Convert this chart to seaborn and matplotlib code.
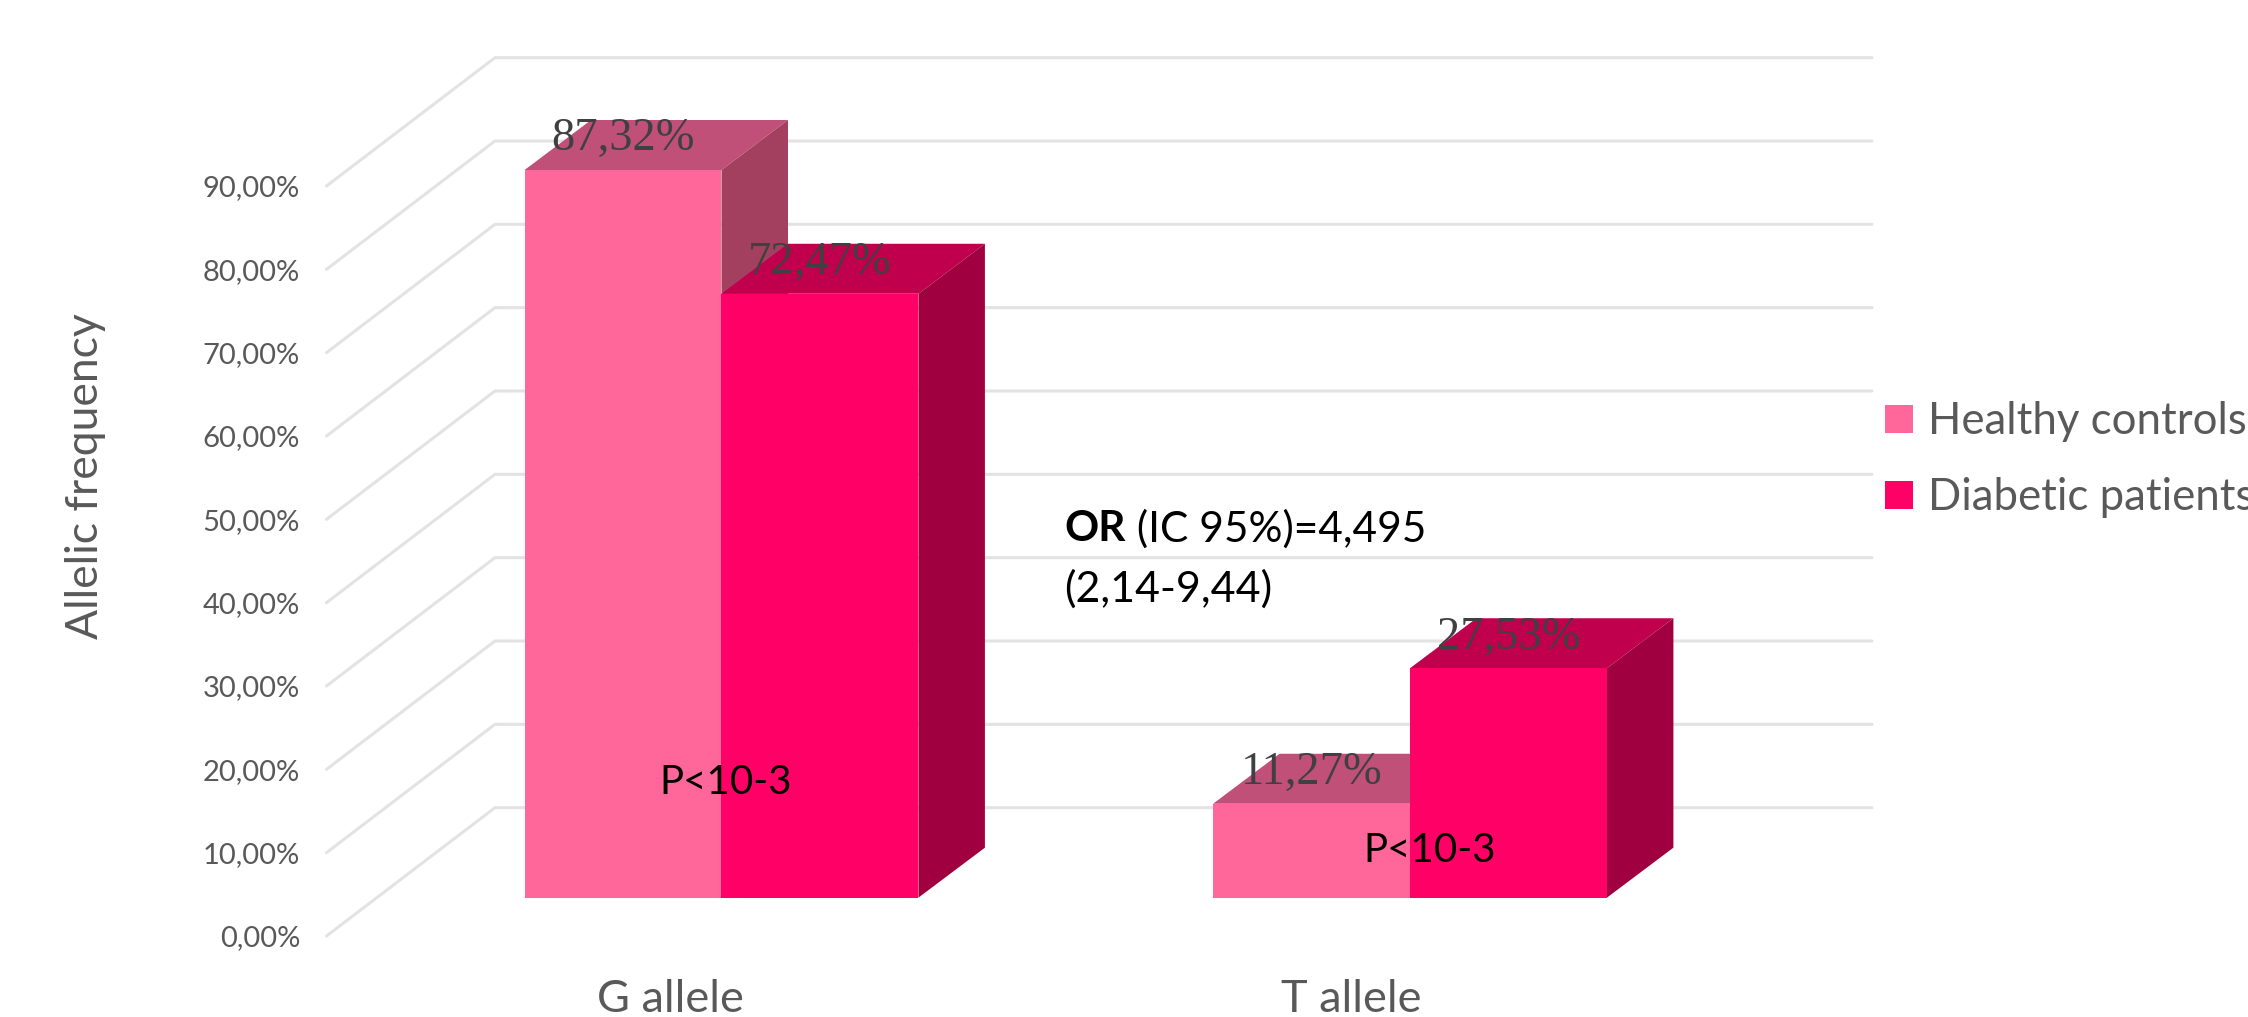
import matplotlib
matplotlib.use("Agg")
import matplotlib.pyplot as plt
import pandas as pd
import seaborn as sns
from matplotlib.patches import Polygon

# values
alleles = ["G allele", "T allele"]
groups = ["Healthy controls", "Diabetic patients"]
healthy = [87.32, 11.27]
diabetic = [72.47, 27.53]
y_ticks = [0, 10, 20, 30, 40, 50, 60, 70, 80, 90]
y_tick_labels = ["0,00%", "10,00%", "20,00%", "30,00%", "40,00%",
                 "50,00%", "60,00%", "70,00%", "80,00%", "90,00%"]

# colours: front, top, side
PINK = ("#FF6699", "#C05078", "#A3405F")
RED = ("#FF0066", "#C0004D", "#A0003F")
GRID = "#E3E3E3"
TEXT = "#595959"

# fake 3D: how far the back wall and the bars are pushed, in data units
WALL_DX, WALL_DY = 0.2447, 15.4
BAR_DX, BAR_DY = 0.0966, 6.0
BAR_FLOOR = 4.6
CAT_SHIFT = 0.0737
TICK_NUDGE = [0, -0.012]


def fig_xy(px, py):
    """Convert reference pixels to figure fractions."""
    return px / 2248, 1 - py / 1017


df = pd.DataFrame({
    "allele": alleles * 2,
    "group": [groups[0]] * 2 + [groups[1]] * 2,
    "value": healthy + diabetic,
})

sns.set_style("white")
plt.rcParams["font.family"] = ["Lato", "DejaVu Sans"]

fig = plt.figure(figsize=(22.48, 10.17), dpi=100)
ax = fig.add_axes([326.5 / 2248, 81 / 1017, 1377 / 2248, 750 / 1017])

sns.barplot(data=df, x="allele", y="value", hue="group", order=alleles,
            hue_order=groups, palette=[PINK[0], RED[0]], width=0.572, gap=0,
            saturation=1, linewidth=0, zorder=3, ax=ax)

left, right = -0.5 - CAT_SHIFT, 1.5 - CAT_SHIFT
ax.set_xlim(left, right)
ax.set_ylim(0, 90)

# floor and wall lines
for v in y_ticks:
    ax.plot([left, left + WALL_DX, right + WALL_DX],
            [v, v + WALL_DY, v + WALL_DY],
            color=GRID, lw=2.2, clip_on=False, zorder=1, solid_joinstyle="miter")

# lift bars off the front edge, add top and side of each, plus value label
for cont, shades, vals in zip(ax.containers, [PINK, RED], [healthy, diabetic]):
    for rect, v in zip(cont, vals):
        rect.set_y(BAR_FLOOR)
        rect.set_clip_on(False)
        x0 = rect.get_x()
        x1 = x0 + rect.get_width()
        y0 = rect.get_y()
        y1 = y0 + rect.get_height()
        top = [(x0, y1), (x1, y1), (x1 + BAR_DX, y1 + BAR_DY), (x0 + BAR_DX, y1 + BAR_DY)]
        side = [(x1, y0), (x1 + BAR_DX, y0 + BAR_DY), (x1 + BAR_DX, y1 + BAR_DY), (x1, y1)]
        ax.add_patch(Polygon(top, closed=True, fc=shades[1], ec="none", clip_on=False, zorder=2))
        ax.add_patch(Polygon(side, closed=True, fc=shades[2], ec="none", clip_on=False, zorder=2))
        ax.text((x0 + x1) / 2, y1 + 3.7, f"{v:.2f}".replace(".", ",") + "%",
                family="Liberation Serif", fontsize=33.5, color="#404040",
                ha="center", va="center", zorder=5)

ax.set_yticks(y_ticks, y_tick_labels)
ax.set_xticks([i - CAT_SHIFT + TICK_NUDGE[i] for i in range(len(alleles))], alleles)
ax.tick_params(axis="y", length=0, pad=19, labelsize=21, labelcolor=TEXT)
ax.tick_params(axis="x", length=0, pad=31, labelsize=32.5, labelcolor=TEXT)
ax.set_xlabel("")
ax.set_ylabel("Allelic frequency", fontsize=32, color=TEXT)
ax.yaxis.set_label_coords((106 - 326.5) / 1377, (936 - 476) / 750)
sns.despine(ax=ax, left=True, bottom=True)

# the reference cuts "Diabetic patients" off at the right edge, kept as is
leg = ax.legend(loc="center left", bbox_to_anchor=fig_xy(1885, 460),
                bbox_transform=fig.transFigure, frameon=False, fontsize=31.5,
                labelcolor=TEXT, handlelength=0.64, handleheight=0.6,
                handletextpad=0.34, labelspacing=0.8, borderpad=0, borderaxespad=0)

# annotations placed on the chart
for px, py in [(726, 782), (1430, 850)]:
    fig.text(*fig_xy(px, py), "P<10-3", fontsize=29, color="black",
             ha="center", va="center", zorder=6)
or_txt = fig.text(*fig_xy(1064, 529), "OR", fontsize=30.5, fontweight="bold",
                  color="black", ha="left", va="center", zorder=6)
ax.annotate(" (IC 95%)=4,495", xy=(1, 0.5), xycoords=or_txt, fontsize=30.5,
            color="black", ha="left", va="center", zorder=6)
fig.text(*fig_xy(1064, 589), "(2,14-9,44)", fontsize=31, color="black",
         ha="left", va="center", zorder=6)

fig.savefig("out.png", dpi=100)
